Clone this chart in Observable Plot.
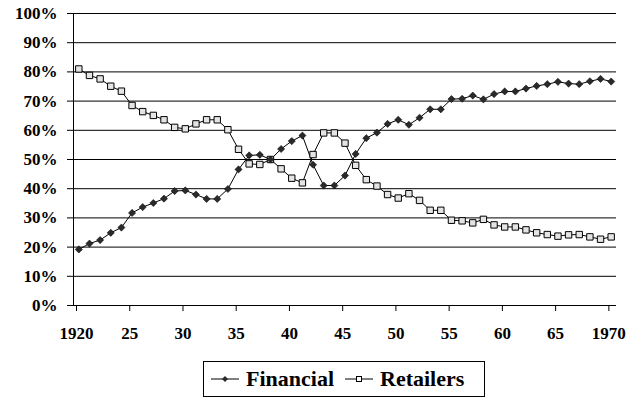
<!DOCTYPE html>
<html>
<head>
<meta charset="utf-8">
<script src="https://cdn.jsdelivr.net/npm/d3@7"></script>
<script src="https://cdn.jsdelivr.net/npm/@observablehq/plot@0.6"></script>
<style>
  html, body { margin: 0; padding: 0; background: #fff; }
  #wrap { position: relative; width: 632px; height: 400px; font-family: "Liberation Serif", "Times New Roman", Times, "DejaVu Serif", serif; }
  #legend { position: absolute; left: 203px; top: 361px; width: 280px; height: 34px; border: 1px solid #000;
    display: flex; align-items: center; font-weight: bold; font-size: 22px; color: #000; box-sizing: content-box; }
  #legend svg { display: block; }
  .lg-item { display: flex; align-items: center; }
</style>
</head>
<body>
<div id="wrap">
  <div id="chart"></div>
  <div id="legend"></div>
</div>
<script>
const years = [1920,1921,1922,1923,1924,1925,1926,1927,1928,1929,
  1930,1931,1932,1933,1934,1935,1936,1937,1938,1939,
  1940,1941,1942,1943,1944,1945,1946,1947,1948,1949,
  1950,1951,1952,1953,1954,1955,1956,1957,1958,1959,
  1960,1961,1962,1963,1964,1965,1966,1967,1968,1969,1970];

const financial = [19.2,21.2,22.4,24.9,26.7,31.7,33.7,35.1,36.6,39.2,
  39.4,38.0,36.5,36.5,39.9,46.6,51.4,51.6,50.0,53.6,
  56.3,58.2,48.2,41.1,41.1,44.5,51.9,57.3,59.2,62.2,
  63.6,61.9,64.3,67.2,67.2,70.7,70.8,71.9,70.6,72.4,
  73.3,73.3,74.3,75.2,75.8,76.6,76.0,75.8,76.8,77.6,76.7];

const retailers = [81.0,78.8,77.6,75.1,73.4,68.5,66.4,65.1,63.6,61.0,
  60.5,62.2,63.6,63.6,60.2,53.5,48.5,48.3,50.0,46.8,
  43.6,42.0,51.7,59.1,59.1,55.6,48.0,43.1,40.9,38.0,
  36.8,38.3,36.0,32.6,32.6,29.2,29.0,28.3,29.5,27.6,
  26.9,26.9,25.9,24.9,24.3,23.75,24.2,24.3,23.5,22.7,23.5];

const seriesNames = ["Financial", "Retailers"];
const xTicks = [1920,1925,1930,1935,1940,1945,1950,1955,1960,1965,1970];
const xTickLabels = ["1920","25","30","35","40","45","50","55","60","65","1970"];
const yTicks = [0,10,20,30,40,50,60,70,80,90,100];

const FONT = "'Liberation Serif', 'Times New Roman', Times, 'DejaVu Serif', serif";

const finData = years.map((y, i) => ({year: y, value: financial[i]}));
const retData = years.map((y, i) => ({year: y, value: retailers[i]}));

const diamond = {
  draw(ctx, size) {
    const r = Math.sqrt(size / Math.PI);
    ctx.moveTo(0, -r); ctx.lineTo(r, 0); ctx.lineTo(0, r); ctx.lineTo(-r, 0); ctx.closePath();
  }
};
const square = {
  draw(ctx, size) {
    const r = Math.sqrt(size / Math.PI);
    ctx.rect(-r, -r, 2 * r, 2 * r);
  }
};

const chart = Plot.plot({
  width: 632,
  height: 345,
  marginLeft: 73,
  marginRight: 16,
  marginTop: 13,
  marginBottom: 40,
  x: {domain: [1920, 1971], label: null},
  y: {domain: [0, 100], label: null},
  style: {fontFamily: FONT, fontSize: "17px", fontWeight: "bold", color: "#000", background: "#fff"},
  marks: [
    Plot.ruleY(yTicks, {stroke: "#000", strokeWidth: 1}),
    Plot.ruleX([1920], {stroke: "#000", strokeWidth: 1}),
    Plot.axisY(yTicks, {tickSize: 6, tickPadding: 10, tickFormat: d => d + "%", label: null, stroke: "#000", fontFamily: FONT}),
    Plot.axisX(xTicks, {tickSize: 6, tickPadding: 15, tickFormat: d => xTickLabels[xTicks.indexOf(d)], label: null, dx: 3, stroke: "#000", fontFamily: FONT}),
    Plot.line(retData, {x: d => d.year + 0.5, y: "value", stroke: "#000", strokeWidth: 1}),
    Plot.line(finData, {x: d => d.year + 0.5, y: "value", stroke: "#000", strokeWidth: 1}),
    Plot.dot(retData, {x: d => d.year + 0.5, y: "value", symbol: square, r: 3.2, fill: "#e4e4e4", stroke: "#000", strokeWidth: 1}),
    Plot.dot(finData, {x: d => d.year + 0.5, y: "value", symbol: diamond, r: 3.6, fill: "#2a2a2a", stroke: "#000", strokeWidth: 0.5})
  ]
});
document.getElementById("chart").appendChild(chart);

// Legend
const legend = document.getElementById("legend");
const markerSvg = (kind) => {
  const ns = "http://www.w3.org/2000/svg";
  const svg = document.createElementNS(ns, "svg");
  svg.setAttribute("width", 28); svg.setAttribute("height", 12);
  const line = document.createElementNS(ns, "line");
  line.setAttribute("x1", 0); line.setAttribute("x2", 28); line.setAttribute("y1", 6); line.setAttribute("y2", 6);
  line.setAttribute("stroke", "#000");
  svg.appendChild(line);
  if (kind === "Financial") {
    const p = document.createElementNS(ns, "path");
    p.setAttribute("d", "M14,3 L17,6 L14,9 L11,6 Z");
    p.setAttribute("fill", "#2a2a2a");
    svg.appendChild(p);
  } else {
    const r = document.createElementNS(ns, "rect");
    r.setAttribute("x", 11.5); r.setAttribute("y", 3.5); r.setAttribute("width", 5); r.setAttribute("height", 5);
    r.setAttribute("fill", "#fff"); r.setAttribute("stroke", "#000");
    svg.appendChild(r);
  }
  return svg;
};
seriesNames.forEach((name, i) => {
  const item = document.createElement("div");
  item.className = "lg-item";
  item.style.marginLeft = i === 0 ? "7px" : "11px";
  item.appendChild(markerSvg(name));
  const t = document.createElement("span");
  t.textContent = name;
  t.style.marginLeft = "7px";
  item.appendChild(t);
  legend.appendChild(item);
});
</script>
</body>
</html>
